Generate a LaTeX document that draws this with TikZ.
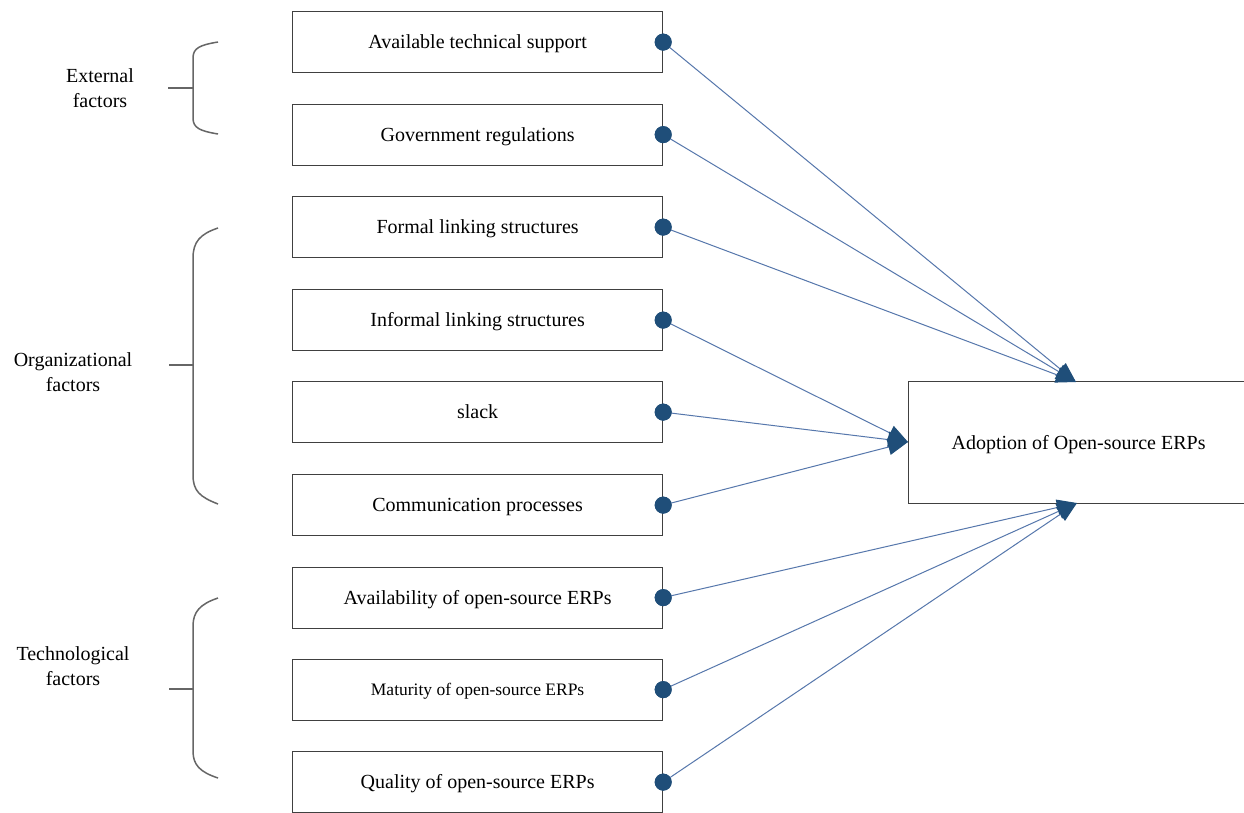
\documentclass[tikz,border=0pt]{standalone}
\usepackage{fontspec}
\setmainfont{Liberation Serif}
\usetikzlibrary{arrows.meta}
\definecolor{dotblue}{HTML}{1F4E79}
\definecolor{lineblue}{HTML}{5677AC}
\definecolor{boxgray}{HTML}{404040}
\definecolor{bracegray}{HTML}{666666}
\begin{document}
\begin{tikzpicture}[x=1pt,y=-1pt,
  factor/.style={draw=boxgray, line width=1.2pt, minimum width=370pt, minimum height=61pt,
    inner sep=0pt, anchor=north west, text height=13.2pt, text depth=0pt, font=\fontsize{20}{22}\selectfont},
  dotnode/.style={circle, fill=dotblue, minimum size=17pt, inner sep=0pt},
  conn/.style={draw=lineblue, line width=1pt, -{Triangle[length=20pt,width=16pt,color=dotblue]}},
  brace/.style={draw=bracegray, line width=1.5pt},
  grouplabel/.style={align=center, font=\fontsize{20}{25}\selectfont}]
\useasboundingbox (0,0) rectangle (1244,812);
\fill[white] (0,0) rectangle (1244,812);
% factor boxes
\node[factor] (b1) at (292,11) {Available technical support};
\node[factor] (b2) at (292,103.5) {Government regulations};
\node[factor] (b3) at (292,196) {Formal linking structures};
\node[factor] (b4) at (292,289) {Informal linking structures};
\node[factor] (b5) at (292,381) {slack};
\node[factor] (b6) at (292,474) {Communication processes};
\node[factor] (b7) at (292,566.5) {Availability of open-source ERPs};
\node[factor, font=\fontsize{17.5}{20}\selectfont, text height=11.6pt] (b8) at (292,658.5) {Maturity of open-source ERPs};
\node[factor] (b9) at (292,751) {Quality of open-source ERPs};
% target
\node[factor, minimum width=340pt, minimum height=122pt] (t) at (908,381) {Adoption of Open-source ERPs};
\coordinate (ttop) at (1076,382);
\coordinate (tleft) at (908,442);
\coordinate (tbot) at (1077,503);
% dots
\foreach \i in {1,...,9} {\node[dotnode] (d\i) at (b\i.east) {};}
% connectors
\foreach \i in {1,2,3} {\draw[conn] (d\i.center) -- (ttop);}
\foreach \i in {4,5,6} {\draw[conn] (d\i.center) -- (tleft);}
\foreach \i in {7,8,9} {\draw[conn] (d\i.center) -- (tbot);}
\foreach \i in {1,...,9} {\node[dotnode] at (b\i.east) {};}
% braces
\draw[brace] (218,42) .. controls (200,45) and (193,48) .. (193,58) -- (193,118) .. controls (193,128) and (200,131) .. (218,134);
\draw[brace] (168,88) -- (193,88);
\draw[brace] (218,228) .. controls (200,234) and (193,242) .. (193,258) -- (193,475) .. controls (193,491) and (200,497) .. (218,504);
\draw[brace] (169,365) -- (193,365);
\draw[brace] (218,598) .. controls (200,604) and (193,612) .. (193,626) -- (193,751) .. controls (193,765) and (200,772) .. (218,778);
\draw[brace] (169,689) -- (193,689);
% group labels
\node[grouplabel] (g1) at (100,88) {External\\factors};
\node[grouplabel] (g2) at (73,372) {Organizational\\factors};
\node[grouplabel] (g3) at (73,666) {Technological\\factors};
\end{tikzpicture}
\end{document}
